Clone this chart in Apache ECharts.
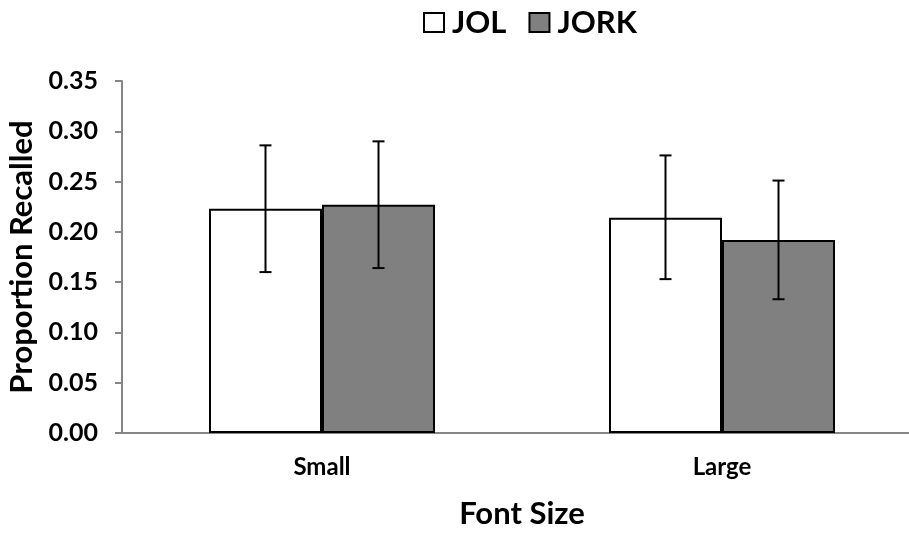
<!DOCTYPE html>
<html>
<head>
<meta charset="utf-8">
<script src="https://cdn.jsdelivr.net/npm/echarts@6/dist/echarts.min.js"></script>
<style>
  html, body { margin: 0; padding: 0; background: #fff; }
  #chart { width: 909px; height: 533px; }
</style>
</head>
<body>
<div id="chart"></div>
<script>
// Recall by font size, judgement type as series
const categories = ['Small', 'Large'];
const seriesNames = ['JOL', 'JORK'];
const jolMeans = [0.223, 0.214];
const jorkMeans = [0.227, 0.192];
// error bar extents (low, high)
const jolLow = [0.160, 0.153];
const jolHigh = [0.286, 0.276];
const jorkLow = [0.164, 0.133];
const jorkHigh = [0.290, 0.251];
const yTicks = { min: 0, max: 0.35, step: 0.05 };

const FONT = 'Lato, "Open Sans", sans-serif';
const BAR_W = 113;

function errorData(low, high) {
  return categories.map((c, i) => [i, low[i], high[i]]);
}

function errorSeries(name, low, high, side) {
  return {
    type: 'custom',
    name: name + ' error',
    z: 10,
    silent: true,
    encode: { x: 0, y: [1, 2] },
    data: errorData(low, high),
    renderItem: function (params, api) {
      const lo = api.coord([api.value(0), api.value(1)]);
      const hi = api.coord([api.value(0), api.value(2)]);
      const x = lo[0] + side * BAR_W / 2;
      const cap = 6;
      const st = { stroke: '#000', lineWidth: 2 };
      return {
        type: 'group',
        children: [
          { type: 'line', shape: { x1: x, y1: lo[1], x2: x, y2: hi[1] }, style: st },
          { type: 'line', shape: { x1: x - cap, y1: hi[1], x2: x + cap, y2: hi[1] }, style: st },
          { type: 'line', shape: { x1: x - cap, y1: lo[1], x2: x + cap, y2: lo[1] }, style: st }
        ]
      };
    }
  };
}

const chart = echarts.init(document.getElementById('chart'), null, { renderer: 'canvas' });
chart.setOption({
  animation: false,
  backgroundColor: '#fff',
  legend: {
    data: seriesNames,
    top: 2,
    left: 418,
    icon: 'rect',
    itemWidth: 20,
    itemHeight: 19,
    itemGap: 22,
    itemStyle: { borderWidth: 2 },
    textStyle: { fontFamily: FONT, fontWeight: 'bold', fontSize: 31, color: '#000', padding: [0, 0, 0, 3] }
  },
  grid: { left: 122, top: 81, bottom: 100, width: 800, outerBoundsMode: 'none', containLabel: false },
  xAxis: {
    type: 'category',
    data: categories,
    axisLine: { lineStyle: { color: '#868686', width: 2 } },
    axisTick: { show: false },
    axisLabel: { fontFamily: FONT, fontWeight: 'bold', fontSize: 24, color: '#000', margin: 22 },
    name: 'Font Size',
    nameLocation: 'middle',
    nameGap: 65,
    nameTextStyle: { fontFamily: FONT, fontWeight: 'bold', fontSize: 31, color: '#000' }
  },
  yAxis: {
    type: 'value',
    min: yTicks.min,
    max: yTicks.max,
    interval: yTicks.step,
    splitLine: { show: false },
    axisLine: { show: true, lineStyle: { color: '#868686', width: 2 } },
    axisTick: { show: true, length: 7, lineStyle: { color: '#868686', width: 2 } },
    axisLabel: {
      fontFamily: FONT, fontWeight: 'bold', fontSize: 25, color: '#000', margin: 24,
      formatter: v => v.toFixed(2)
    },
    name: 'Proportion Recalled',
    nameLocation: 'middle',
    nameGap: 82,
    nameRotate: 90,
    nameTextStyle: { fontFamily: FONT, fontWeight: 'bold', fontSize: 31, color: '#000' }
  },
  series: [
    {
      name: 'JOL', type: 'bar', data: jolMeans, barWidth: BAR_W, barGap: '0%',
      itemStyle: { color: '#ffffff', borderColor: '#000', borderWidth: 2 }
    },
    {
      name: 'JORK', type: 'bar', data: jorkMeans, barWidth: BAR_W, barGap: '0%',
      itemStyle: { color: '#808080', borderColor: '#000', borderWidth: 2 }
    },
    errorSeries('JOL', jolLow, jolHigh, -1),
    errorSeries('JORK', jorkLow, jorkHigh, 1)
  ]
});
</script>
</body>
</html>
